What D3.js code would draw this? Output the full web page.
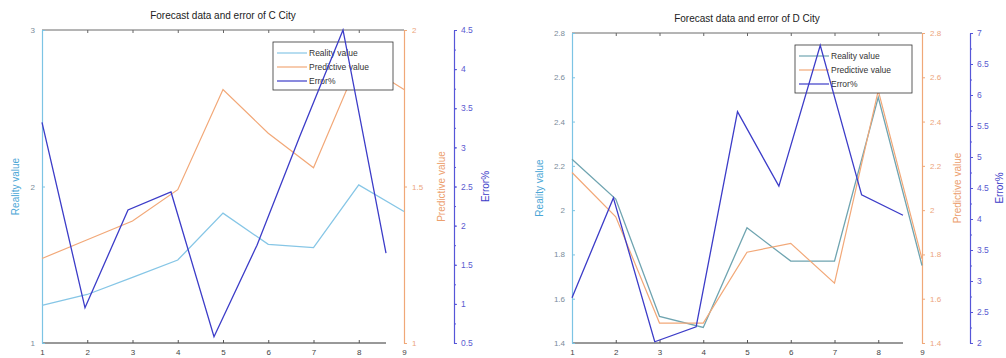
<!DOCTYPE html>
<html>
<head>
<meta charset="utf-8">
<script src="https://cdn.jsdelivr.net/npm/d3@7"></script>
<style>
body { margin: 0; background: #fff; }
svg { font-family: "Liberation Sans", Arial, sans-serif; }
</style>
</head>
<body>
<svg width="1006" height="358"></svg>
<script>
// x positions (months / samples)
var xVals = [1, 2, 3, 4, 5, 6, 7, 8, 9];

// C City
var cReality = [1.24, 1.31, 1.42, 1.53, 1.83, 1.63, 1.61, 2.01, 1.84];
var cPredict = [1.27, 1.33, 1.39, 1.49, 1.81, 1.67, 1.56, 1.90, 1.81];
var cError   = [3.32, 0.95, 2.20, 2.43, 0.58, 1.75, 3.15, 4.50, 1.65];

// D City
var dReality = [2.23, 2.05, 1.52, 1.47, 1.92, 1.77, 1.77, 2.51, 1.75];
var dPredict = [2.17, 1.97, 1.49, 1.49, 1.81, 1.85, 1.67, 2.54, 1.78];
var dError   = [2.73, 4.34, 2.02, 2.26, 5.73, 4.53, 6.80, 4.39, 4.06];

// tick labels
var cLeftTicks = [1, 2, 3];
var cPredTicks = [1, 1.5, 2];
var cErrTicks  = [0.5, 1, 1.5, 2, 2.5, 3, 3.5, 4, 4.5];
var dLeftTicks = [1.4, 1.6, 1.8, 2, 2.2, 2.4, 2.6, 2.8];
var dPredTicks = [1.4, 1.6, 1.8, 2, 2.2, 2.4, 2.6, 2.8];
var dErrTicks  = [2, 2.5, 3, 3.5, 4, 4.5, 5, 5.5, 6, 6.5, 7];

var svg = d3.select('svg');
var fmt = d3.format('~g');

function drawPanel(p) {
  var g = svg.append('g');
  var xs = d3.scaleLinear().domain([1, 9]).range([p.left, p.right]);
  var xe = d3.scaleLinear().domain([1, 9]).range([p.left, p.errEnd]);
  var yl = d3.scaleLinear().domain(p.leftDom).range([p.bottom, p.top]);
  var yp = d3.scaleLinear().domain(p.predDom).range([p.bottom, p.top]);
  var ye = d3.scaleLinear().domain(p.errDom).range([p.bottom, p.top]);

  // top and bottom black frame lines
  g.append('line').attr('x1', p.left).attr('x2', p.right).attr('y1', p.top).attr('y2', p.top)
    .attr('stroke', '#444').attr('stroke-width', 0.8);
  g.append('line').attr('x1', p.left).attr('x2', p.errEnd).attr('y1', p.bottom).attr('y2', p.bottom)
    .attr('stroke', '#333').attr('stroke-width', 1);

  // bottom axis
  var bx = g.append('g').attr('transform', 'translate(0,' + p.bottom + ')')
    .call(d3.axisBottom(xs).tickValues(xVals).tickSizeInner(-3).tickSizeOuter(0).tickPadding(6));
  bx.select('.domain').remove();
  bx.selectAll('line').attr('stroke', '#555');
  bx.selectAll('text').attr('fill', '#444').style('font-size', '8px');

  // top tick marks
  var tx = g.append('g').attr('transform', 'translate(0,' + p.top + ')')
    .call(d3.axisTop(xs).tickValues(xVals).tickSizeInner(-3).tickSizeOuter(0).tickFormat(''));
  tx.select('.domain').remove();
  tx.selectAll('line').attr('stroke', '#666');

  // left axis
  var la = g.append('g').attr('transform', 'translate(' + p.left + ',0)')
    .call(d3.axisLeft(yl).tickValues(p.leftTicks).tickFormat(fmt).tickSizeInner(-3).tickSizeOuter(0).tickPadding(7));
  la.select('.domain').attr('stroke', '#7cc4e4').attr('stroke-width', 1.2);
  la.selectAll('line').attr('stroke', '#7cc4e4');
  la.selectAll('text').attr('fill', '#7a8c9a').style('font-size', '8px');

  // predictive axis
  var pa = g.append('g').attr('transform', 'translate(' + p.right + ',0)')
    .call(d3.axisRight(yp).tickValues(p.predTicks).tickFormat(fmt).tickSizeInner(3).tickSizeOuter(0).tickPadding(5));
  pa.select('.domain').attr('stroke', '#f0a878').attr('stroke-width', 1.2);
  pa.selectAll('line').attr('stroke', '#f0a878');
  pa.selectAll('text').attr('fill', '#eca57c').style('font-size', '8px');

  // error axis with minor ticks
  var minor = d3.range(p.errDom[0], p.errDom[1] + 0.001, 0.25);
  var ma = g.append('g').attr('transform', 'translate(' + p.errAxis + ',0)')
    .call(d3.axisRight(ye).tickValues(minor).tickSizeInner(2).tickSizeOuter(0).tickFormat(''));
  ma.select('.domain').remove();
  ma.selectAll('line').attr('stroke', '#5656d8');
  var ea = g.append('g').attr('transform', 'translate(' + p.errAxis + ',0)')
    .call(d3.axisRight(ye).tickValues(p.errTicks).tickFormat(fmt).tickSizeInner(3).tickSizeOuter(0).tickPadding(4));
  ea.select('.domain').attr('stroke', '#5656d8').attr('stroke-width', 1.2);
  ea.selectAll('line').attr('stroke', '#5656d8');
  ea.selectAll('text').attr('fill', '#5a5ad0').style('font-size', '8.5px');

  // axis titles
  var midY = (p.top + p.bottom) / 2;
  g.append('text').attr('transform', 'translate(' + p.leftLabel + ',' + midY + ') rotate(-90)')
    .attr('text-anchor', 'middle').attr('fill', '#4aa6d6').style('font-size', '10px').text('Reality value');
  g.append('text').attr('transform', 'translate(' + p.predLabel + ',' + midY + ') rotate(-90)')
    .attr('text-anchor', 'middle').attr('fill', '#eca06e').style('font-size', '10px').text('Predictive value');
  g.append('text').attr('transform', 'translate(' + p.errLabel + ',' + midY + ') rotate(-90)')
    .attr('text-anchor', 'middle').attr('fill', '#3c3cc8').style('font-size', '10px').text('Error%');

  // title
  g.append('text').attr('x', (p.left + p.right) / 2).attr('y', p.titleY)
    .attr('text-anchor', 'middle').attr('fill', '#222').style('font-size', '10px').text(p.title);

  // series
  var lineMain = function(ys) {
    return d3.line().x(function(d, i) { return xs(xVals[i]); }).y(function(d) { return ys(d); });
  };
  g.append('path').datum(p.reality).attr('d', lineMain(yl))
    .attr('fill', 'none').attr('stroke', p.realColor).attr('stroke-width', 1.3);
  g.append('path').datum(p.predict).attr('d', lineMain(yp))
    .attr('fill', 'none').attr('stroke', '#f2a878').attr('stroke-width', 1.2);

  // legend
  var lg = g.append('g').attr('transform', 'translate(' + p.legX + ',' + p.legY + ')');
  lg.append('rect').attr('width', p.legW).attr('height', 48)
    .attr('fill', '#fff').attr('stroke', '#333').attr('stroke-width', 0.8);
  var items = [['Reality value', p.realColor], ['Predictive value', '#f2a878'], ['Error%', '#3c3cc8']];
  items.forEach(function(it, i) {
    var yy = 11 + i * 14;
    lg.append('line').attr('x1', 4).attr('x2', 34).attr('y1', yy).attr('y2', yy)
      .attr('stroke', it[1]).attr('stroke-width', 1.2);
    lg.append('text').attr('x', 36).attr('y', yy + 3).attr('fill', '#333')
      .style('font-size', '8.5px').text(it[0]);
  });

  // error line is drawn on top of legend
  g.append('path').datum(p.error)
    .attr('d', d3.line().x(function(d, i) { return xe(xVals[i]); }).y(function(d) { return ye(d); }))
    .attr('fill', 'none').attr('stroke', '#3c3cc8').attr('stroke-width', 1.3);
}

drawPanel({
  title: 'Forecast data and error of C City', titleY: 19,
  left: 42, right: 404, errEnd: 386, top: 30, bottom: 343, errAxis: 454,
  leftLabel: 19, predLabel: 445, errLabel: 489,
  leftDom: [1, 3], predDom: [1, 2], errDom: [0.5, 4.5],
  leftTicks: cLeftTicks, predTicks: cPredTicks, errTicks: cErrTicks,
  reality: cReality, predict: cPredict, error: cError, realColor: '#86c6e6',
  legX: 273, legY: 42, legW: 120
});

drawPanel({
  title: 'Forecast data and error of D City', titleY: 22,
  left: 572, right: 922, errEnd: 903, top: 33, bottom: 343, errAxis: 970,
  leftLabel: 543, predLabel: 961, errLabel: 1003,
  leftDom: [1.4, 2.8], predDom: [1.4, 2.8], errDom: [2, 7],
  leftTicks: dLeftTicks, predTicks: dPredTicks, errTicks: dErrTicks,
  reality: dReality, predict: dPredict, error: dError, realColor: '#6fa4b0',
  legX: 795, legY: 45, legW: 117
});
</script>
</body>
</html>
